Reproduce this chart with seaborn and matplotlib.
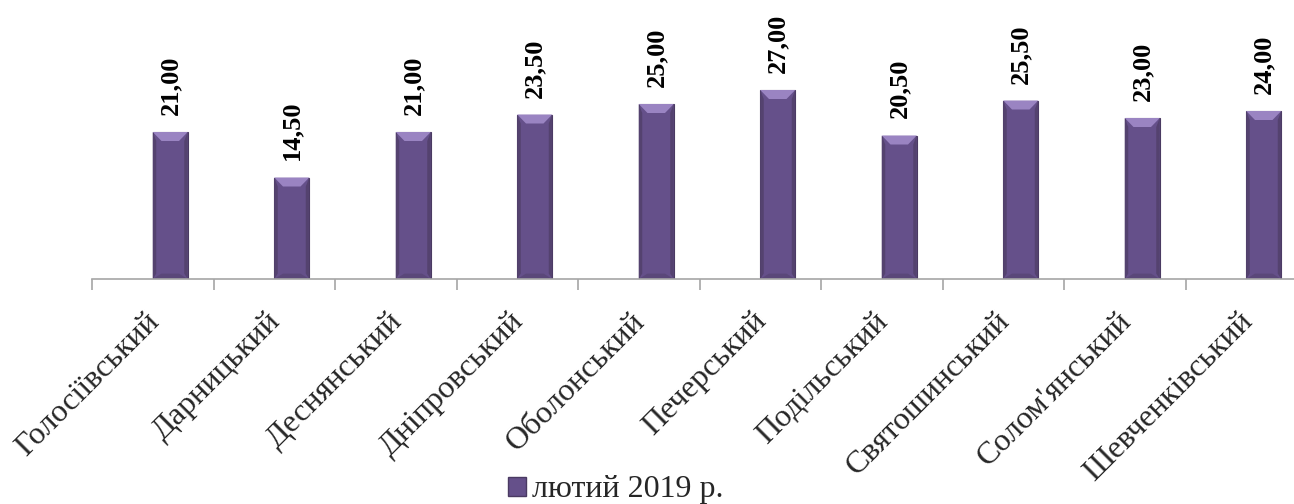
import matplotlib
matplotlib.use("Agg")
import matplotlib.pyplot as plt
import matplotlib.transforms as mtransforms
from matplotlib.patches import Polygon, Patch
import seaborn as sns
import pandas as pd

districts = ["Голосіївський", "Дарницький", "Деснянський", "Дніпровський",
             "Оболонський", "Печерський", "Подільський", "Святошинський",
             "Солом'янський", "Шевченківський"]
values = [21.00, 14.50, 21.00, 23.50, 25.00, 27.00, 20.50, 25.50, 23.00, 24.00]
series_name = "лютий 2019 р."
series_levels = ["_empty", series_name]

bar_color = "#65508A"
edge_color = "#4A3A62"
top_color = "#9A84C2"
side_color = "#54426F"
bottom_color = "#5A4779"
axis_color = "#A6A6A6"

sns.set_theme(style="white")
plt.rcParams['font.family'] = ['Liberation Serif', 'DejaVu Serif']

df = pd.DataFrame({"district": districts, "value": values,
                   "series": [series_name] * len(districts)})

W, H, DPI = 1294, 504, 100
fig = plt.figure(figsize=(W / DPI, H / DPI), dpi=DPI)
ax_left, ax_bottom = 92, 504 - 279
ax_w, ax_h = 1215, 210
ax = fig.add_axes([ax_left / W, ax_bottom / H, ax_w / W, ax_h / H])

sns.barplot(data=df, x="district", y="value", hue="series", hue_order=series_levels,
            palette={"_empty": bar_color, series_name: bar_color}, width=0.576,
            dodge=True, gap=0, saturation=1, ax=ax, edgecolor=edge_color,
            linewidth=0.8, legend=False)
ax.set_ylim(0, 30)
ax.set_xlim(-0.5, len(districts) - 0.5)

# bevel decoration derived from each bar's geometry
px_per_unit = ax_h / 30.0
bev = 9 / px_per_unit
for p in list(ax.patches):
    x0, w, h = p.get_x(), p.get_width(), p.get_height()
    if not h or h != h:
        continue
    inset = w * 0.25
    side = w * 0.1
    z = p.get_zorder() + 0.1
    ax.add_patch(Polygon([[x0, 0], [x0 + side, bev * 0.6], [x0 + side, h - bev], [x0, h]],
                         closed=True, facecolor=side_color, edgecolor="none", zorder=z))
    ax.add_patch(Polygon([[x0 + w, 0], [x0 + w - side, bev * 0.6], [x0 + w - side, h - bev], [x0 + w, h]],
                         closed=True, facecolor=side_color, edgecolor="none", zorder=z))
    ax.add_patch(Polygon([[x0, h], [x0 + w, h], [x0 + w - inset, h - bev], [x0 + inset, h - bev]],
                         closed=True, facecolor=top_color, edgecolor="none", zorder=z + 0.1))
    ax.add_patch(Polygon([[x0, 0], [x0 + w, 0], [x0 + w - inset, bev * 0.6], [x0 + inset, bev * 0.6]],
                         closed=True, facecolor=bottom_color, edgecolor="none", zorder=z + 0.1))
    ax.text(x0 + w / 2, h + 17 / px_per_unit, f"{h:.2f}".replace('.', ','),
            rotation=90, ha="center", va="bottom", fontsize=19, fontweight="bold",
            color="black", clip_on=False)

for s in ["top", "right", "left"]:
    ax.spines[s].set_visible(False)
ax.spines["bottom"].set_color(axis_color)
ax.spines["bottom"].set_linewidth(1.2)
ax.set_yticks([])
ax.set_xlabel("")
ax.set_ylabel("")

# ticks between categories
ax.set_xticks([i - 0.5 for i in range(len(districts) + 1)], minor=False)
ax.set_xticklabels([])
ax.tick_params(axis="x", which="major", direction="out", length=8, width=1.2,
               color=axis_color, bottom=True)
ax.set_xticks(range(len(districts)), minor=True)
ax.set_xticklabels(districts, minor=True, rotation=45, ha="right",
                   rotation_mode="anchor", fontsize=23)
ax.tick_params(axis="x", which="minor", length=0, pad=20)
offset = mtransforms.ScaledTranslation(-8 / DPI, 0, fig.dpi_scale_trans)
for lbl in ax.get_xticklabels(minor=True):
    lbl.set_transform(lbl.get_transform() + offset)

fig.legend(handles=[Patch(facecolor=bar_color, edgecolor=edge_color, label=series_name)],
           loc="center", bbox_to_anchor=(616 / W, 1 - 490 / H), frameon=False,
           fontsize=23, handlelength=0.55, handleheight=0.55, handletextpad=0.2,
           borderpad=0)

fig.savefig("out.png", dpi=DPI)
